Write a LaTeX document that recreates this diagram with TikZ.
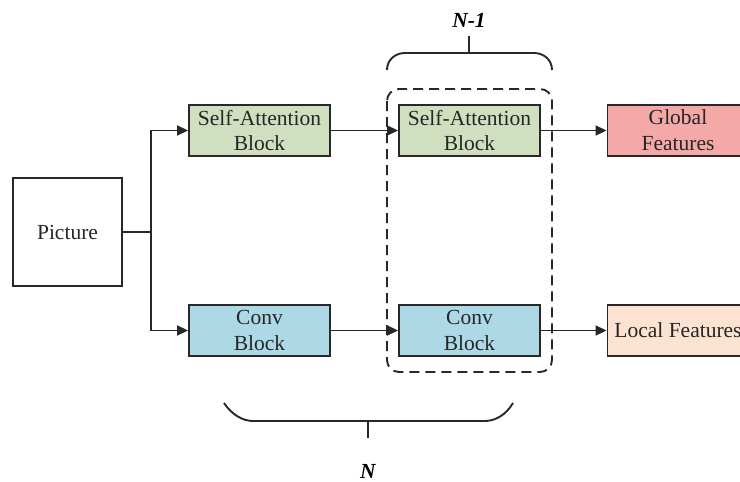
\documentclass[tikz,border=0pt]{standalone}
\usepackage{fontspec}
\setmainfont{Liberation Serif}
\usetikzlibrary{arrows.meta}
\definecolor{sagreen}{RGB}{208,223,192}
\definecolor{convblue}{RGB}{173,216,230}
\definecolor{globred}{RGB}{244,168,168}
\definecolor{locpeach}{RGB}{252,226,208}
\definecolor{edgegray}{RGB}{40,40,40}
\tikzset{
  blk/.style={draw=edgegray, line width=1.9pt, minimum width=141pt, minimum height=51pt,
    inner sep=0pt, align=center, font=\fontsize{21.5}{25.8}\selectfont, text=black!85},
  arr/.style={draw=edgegray, line width=1.9pt, -{Triangle[length=11pt,width=10pt]}},
  ln/.style={draw=edgegray, line width=1.9pt},
  lbl/.style={font=\fontsize{21.5}{25.8}\selectfont\bfseries\itshape, inner sep=0pt}
}
\begin{document}
\begin{tikzpicture}[x=1pt,y=-1pt]
\useasboundingbox (0,0) rectangle (740,482);
\clip (0,0) rectangle (740,482);
\node[blk, minimum width=109pt, minimum height=108pt] (pic) at (67.5,232) {Picture};
\node[blk, fill=sagreen] (sa1) at (259.5,130.5) {Self-Attention\\Block};
\node[blk, fill=sagreen] (sa2) at (469.5,130.5) {Self-Attention\\Block};
\node[blk, fill=globred] (glob) at (678,130.5) {Global\\Features};
\node[blk, fill=convblue] (cv1) at (259.5,330.5) {Conv\\Block};
\node[blk, fill=convblue] (cv2) at (469.5,330.5) {Conv\\Block};
\node[blk, fill=locpeach] (loc) at (678,330.5) {Local Features};
\coordinate (split) at (151,232);
\draw[ln] (pic.east) -- (split);
\draw[arr] (split) |- (sa1.west);
\draw[arr] (split) |- (cv1.west);
\draw[arr] (sa1.east) -- (sa2.west);
\draw[arr] (cv1.east) -- (cv2.west);
\draw[arr] (sa2.east) -- (glob.west);
\draw[arr] (cv2.east) -- (loc.west);
% dashed group
\draw[ln, dash pattern=on 10pt off 6pt, rounded corners=12pt] (387,89) rectangle (552,372);
% top brace
\draw[ln] (387,70) .. controls (387,60) and (395,53) .. (405,53) -- (534,53) .. controls (544,53) and (552,60) .. (552,70);
\coordinate (tb) at (469,53);
\coordinate (tt) at (469,36);
\draw[ln] (tb) -- (tt);
\node[lbl] (nm1) at (469,20) {N-1};
% bottom brace
\draw[ln] (224,403) .. controls (232,415) and (243,421) .. (253,421) -- (485,421) .. controls (495,421) and (506,415) .. (513,403);
\coordinate (bb) at (368,421);
\coordinate (bt) at (368,438);
\draw[ln] (bb) -- (bt);
\node[lbl] (nn) at (368,471) {N};
\end{tikzpicture}
\end{document}
